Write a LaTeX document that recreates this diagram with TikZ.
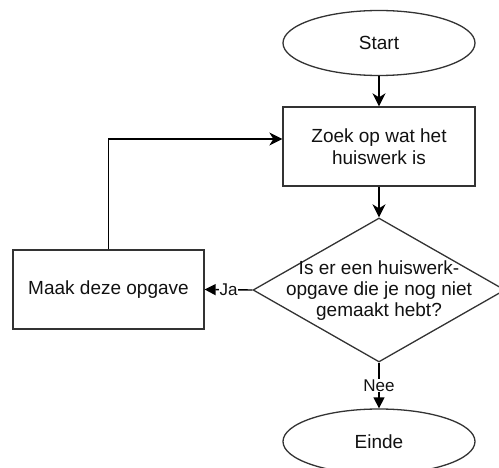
\documentclass[tikz,border=0pt]{standalone}
\usepackage{fontspec}
\setmainfont{Liberation Sans}
\usetikzlibrary{shapes.geometric,arrows.meta}
\definecolor{edge}{HTML}{333333}
\definecolor{ink}{HTML}{111111}
\tikzset{
  base/.style={draw=edge, line width=1.3pt, inner sep=0pt, text=ink,
    font=\fontsize{19}{22}\selectfont, align=center},
  terminal/.style={base, ellipse, minimum width=192pt, minimum height=65pt},
  process/.style={base, rectangle, minimum width=192pt, minimum height=79pt},
  decision/.style={base, diamond, minimum width=252pt, minimum height=144pt},
  flow/.style={draw=black, line width=2pt, -{Stealth[length=13pt,width=13pt,inset=4pt]}},
  branch/.style={draw=black, line width=1.4pt, -{Triangle[length=11pt,width=11pt]}},
  tag/.style={fill=white, inner sep=1pt, text=ink, font=\fontsize{17}{20}\selectfont},
}
\begin{document}
\begin{tikzpicture}[x=1pt,y=-1pt]
  \useasboundingbox (0,0) rectangle (499,468);
  \clip (0,0) rectangle (499,468);

  \node[terminal] (start) at (379,43) {Start};
  \node[process] (zoek) at (379,146.5) {Zoek op wat het\\huiswerk is};
  \node[decision] (vraag) at (379,290) {};
  \node[text=ink, font=\fontsize{19}{21}\selectfont, align=center] (vraagtekst) at (379,291)
    {Is er een huiswerk-\\opgave die je nog niet\\gemaakt hebt?};
  \node[process, minimum width=191pt] (maak) at (108.5,289.5) {Maak deze opgave};
  \node[terminal] (einde) at (379,441.5) {Einde};

  \draw[flow] (start) -- (zoek);
  \draw[flow] (zoek) -- (vraag);
  \draw[branch] (vraag.west) -- node[tag] (ja) {Ja} (maak.east);
  \draw[branch] (vraag.south) -- node[tag, pos=0.5] (nee) {Nee} (einde.north);
  \coordinate (inloop) at ([yshift=7.5pt]zoek.west);
  \coordinate (bocht) at (maak.north |- inloop);
  \draw[flow, line width=1.4pt] (maak.north) -- (bocht) -- (inloop);
\end{tikzpicture}
\end{document}
